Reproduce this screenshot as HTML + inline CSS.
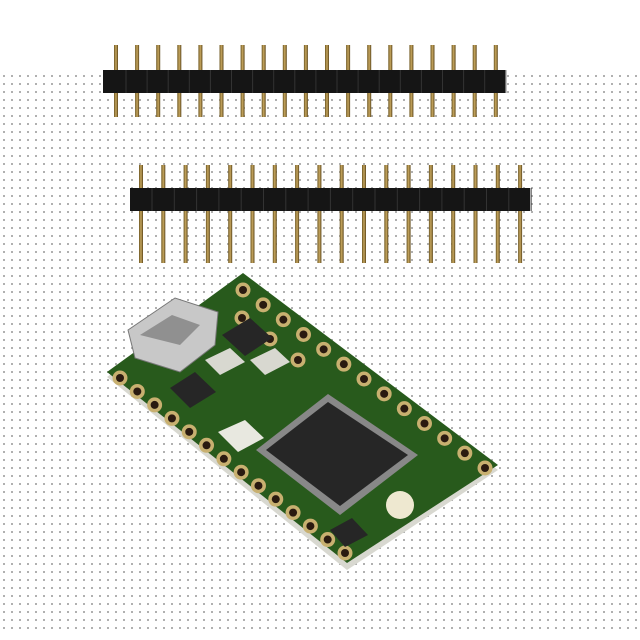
<!DOCTYPE html>
<html><head><style>
body{margin:0;width:640px;height:640px;overflow:hidden;background:#fff}
svg{display:block}
</style></head><body>
<svg id="s" width="640" height="640" xmlns="http://www.w3.org/2000/svg">
<defs>
<pattern id="dots" width="8" height="8" patternUnits="userSpaceOnUse">
<rect x="3" y="3" width="2" height="2" fill="#b0b0b0"/>
</pattern>
<linearGradient id="gold" x1="0" x2="1"><stop offset="0" stop-color="#6a5420"/><stop offset="0.5" stop-color="#c8a860"/><stop offset="1" stop-color="#5a4418"/></linearGradient>
</defs>
<rect x="0" y="70" width="640" height="565" fill="url(#dots)"/>
<g id="h1"></g>
<g id="h2"></g>
<polygon points="107,377 243,278 498,470 347,570" fill="#d8d8d0"/>
<polygon points="107,372 243,273 498,465 347,563" fill="#285a1c"/>
<g id="holes"></g>
<polygon points="128,330 175,298 218,312 215,345 180,372 135,358" fill="#c8c8c8" stroke="#777"/>
<polygon points="140,335 172,315 200,325 180,345" fill="#909090"/>
<polygon points="222,335 250,318 272,338 245,356" fill="#262626"/>
<polygon points="170,388 195,372 216,392 190,408" fill="#262626"/>
<polygon points="205,360 230,348 245,362 220,375" fill="#d8d8d0"/>
<polygon points="250,360 275,348 290,362 265,375" fill="#d8d8d0"/>
<polygon points="218,432 245,420 264,438 238,452" fill="#e8e8e0"/>
<polygon points="256,450 328,394 418,455 340,515" fill="#888"/>
<polygon points="266,450 328,402 408,455 340,506" fill="#262626"/>
<circle cx="400" cy="505" r="14" fill="#eee8d0"/>
<polygon points="330,530 352,518 368,535 345,547" fill="#262626"/>
</svg>
<script>
const s='http://www.w3.org/2000/svg';
function el(p,t,a){const e=document.createElementNS(s,t);for(const k in a)e.setAttribute(k,a[k]);p.appendChild(e);}
const h1=document.getElementById('h1'),h2=document.getElementById('h2');
for(let i=0;i<19;i++){const x=116+i*21.1;el(h1,'rect',{x:x-2,y:45,width:4,height:72,fill:'url(#gold)'});}
el(h1,'rect',{x:103,y:70,width:402,height:23,fill:'#151515'});
for(let i=0;i<19;i++){const x=116+i*21.1;el(h1,'line',{x1:x+10,y1:70,x2:x+10,y2:93,stroke:'#333'});}
for(let i=0;i<18;i++){const x=141+i*22.3;el(h2,'rect',{x:x-2,y:165,width:4,height:98,fill:'url(#gold)'});}
el(h2,'rect',{x:130,y:188,width:400,height:23,fill:'#151515'});
for(let i=0;i<18;i++){const x=141+i*22.3;el(h2,'line',{x1:x+11,y1:188,x2:x+11,y2:211,stroke:'#333'});}
const H=document.getElementById('holes');
function row(ax,ay,bx,by,n){for(let i=0;i<n;i++){const t=i/(n-1);const x=ax+(bx-ax)*t,y=ay+(by-ay)*t;el(H,'circle',{cx:x,cy:y,r:7.5,fill:'#c8b070'});el(H,'circle',{cx:x,cy:y,r:4,fill:'#2a1a10'});}}
row(243,290,485,468,13);
row(242,318,298,360,3);
row(120,378,345,553,14);
</script>
</body></html>
